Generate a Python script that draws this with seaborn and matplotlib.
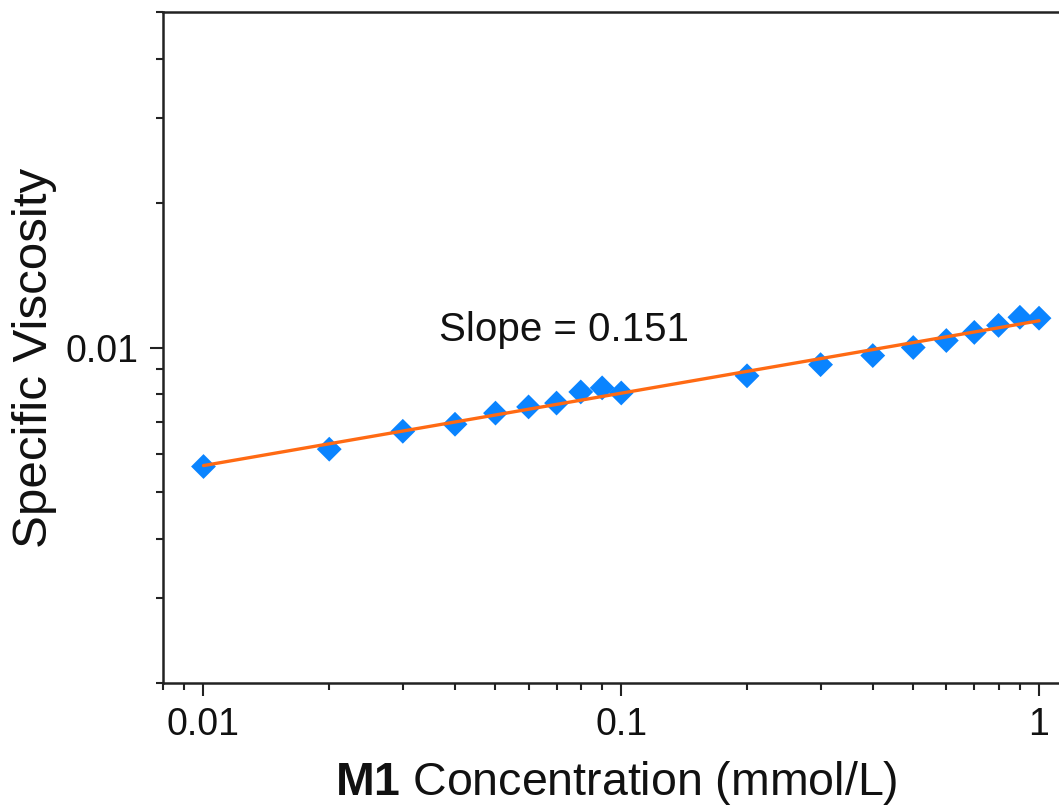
import numpy as np
import pandas as pd
import matplotlib
matplotlib.use("Agg")
import matplotlib.pyplot as plt
import matplotlib.ticker as mticker
import seaborn as sns

# Data
concentration = [0.01, 0.02, 0.03, 0.04, 0.05, 0.06, 0.07, 0.08, 0.09, 0.1,
                 0.2, 0.3, 0.4, 0.5, 0.6, 0.7, 0.8, 0.9, 1.0]
viscosity = [0.00565, 0.00614, 0.00669, 0.00692, 0.00730, 0.00752, 0.00766,
             0.00808, 0.00824, 0.00804, 0.00873, 0.00921, 0.00962, 0.01000,
             0.01034, 0.01075, 0.01112, 0.01156, 0.01151]
x_ticks = [0.01, 0.1, 1]
y_ticks = [0.01]
annotation = "Slope = 0.151"

sns.set_style("ticks")
plt.rcParams['font.family'] = ['Liberation Sans', 'DejaVu Sans']
plt.rcParams['mathtext.fontset'] = 'custom'
plt.rcParams['mathtext.rm'] = 'Liberation Sans'
plt.rcParams['mathtext.bf'] = 'Liberation Sans:bold'

df = pd.DataFrame({"c": concentration, "v": viscosity})

# power-law fit in log space
coef = np.polyfit(np.log10(df["c"]), np.log10(df["v"]), 1)
fit_x = np.array([min(concentration), max(concentration)])
fit_df = pd.DataFrame({"c": fit_x, "v": 10 ** np.polyval(coef, np.log10(fit_x))})

fig = plt.figure(figsize=(10.59, 8.06), dpi=100)
ax = fig.add_axes([163 / 1059, 123 / 806, (1070 - 163) / 1059, (683 - 12) / 806])

sns.scatterplot(data=df, x="c", y="v", marker="D", s=160, color="#0A84FF",
                edgecolor="none", ax=ax, zorder=2)
sns.lineplot(data=fit_df, x="c", y="v", color="#FF6A13", linewidth=2.4,
             ax=ax, zorder=3)

ax.set_xscale("log")
ax.set_yscale("log")
ax.set_xlim(0.008, 10 ** ((1070 - 1039) / 418))
ax.set_ylim(0.002, 0.05)

fmt = mticker.FuncFormatter(lambda v, p: f"{v:g}")
ax.xaxis.set_major_locator(mticker.FixedLocator(x_ticks))
ax.yaxis.set_major_locator(mticker.FixedLocator(y_ticks))
ax.xaxis.set_major_formatter(fmt)
ax.yaxis.set_major_formatter(fmt)
ax.xaxis.set_minor_locator(mticker.LogLocator(base=10, subs=np.arange(2, 10)))
ax.yaxis.set_minor_locator(mticker.LogLocator(base=10, subs=np.arange(2, 10)))
ax.xaxis.set_minor_formatter(mticker.NullFormatter())
ax.yaxis.set_minor_formatter(mticker.NullFormatter())

ax.tick_params(which="major", direction="out", length=9.5, width=1.5,
               labelsize=27, pad=8, color="#222222", labelcolor="#111111")
ax.tick_params(which="minor", direction="out", length=5, width=1.5,
               color="#222222")

for side in ["left", "bottom", "top"]:
    ax.spines[side].set_linewidth(1.8)
    ax.spines[side].set_color("#222222")
ax.spines["right"].set_visible(False)

ax.set_xlabel(r"$\mathbf{M1}$ Concentration (mmol/L)", fontsize=33.5,
              labelpad=11, color="#111111")
ax.set_ylabel("Specific Viscosity", fontsize=35.5, color="#111111")
ax.yaxis.set_label_coords((57 - 163) / 907, (683 - 358) / 671)

ax.text(0.073, 0.0109, annotation, fontsize=29, ha="center", va="center",
        color="#111111")

fig.savefig("out.png", dpi=100, facecolor="white")
